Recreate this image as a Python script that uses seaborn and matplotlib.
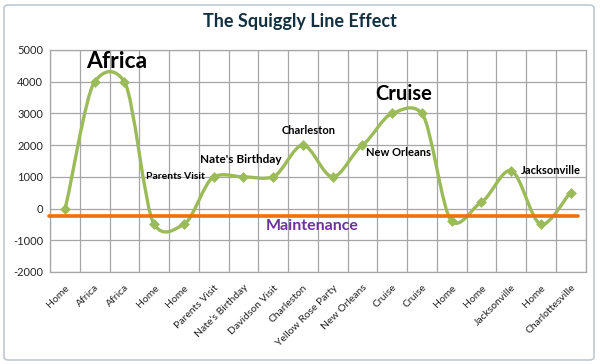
import numpy as np
import pandas as pd
import matplotlib
matplotlib.use("Agg")
import matplotlib.pyplot as plt
import seaborn as sns
from matplotlib.path import Path
from matplotlib.patches import PathPatch, FancyBboxPatch

categories = ["Home", "Africa", "Africa", "Home", "Home", "Parents Visit",
              "Nate's Birthday", "Davidson Visit", "Charleston", "Yellow Rose Party",
              "New Orleans", "Cruise", "Cruise", "Home", "Home", "Jacksonville",
              "Home", "Charlottesville"]
values = [0, 4000, 4000, -500, -500, 1000, 1000, 1000, 2000, 1000,
          2000, 3000, 3000, -400, 200, 1200, -500, 500]
maintenance = -250
yticks = [-2000, -1000, 0, 1000, 2000, 3000, 4000, 5000]

annotations = [
    ("Africa", 1.75, 4650, 16.5, "black", "center"),
    ("Parents Visit", 4.72, 1020, 7.5, "black", "right"),
    ("Nate's Birthday", 5.92, 1560, 8.5, "black", "center"),
    ("Charleston", 8.2, 2470, 8, "black", "center"),
    ("Cruise", 11.4, 3600, 14.5, "black", "center"),
    ("New Orleans", 11.2, 1780, 8, "black", "center"),
    ("Jacksonville", 16.34, 1210, 8, "black", "center"),
    ("Maintenance", 8.3, -560, 11.5, "#7030A0", "center"),
]

sns.set_theme(style="white")
plt.rcParams["font.family"] = ["Lato", "DejaVu Sans"]

fig = plt.figure(figsize=(6.0, 3.64), dpi=100)
ax = fig.add_axes([50/600, 1-272/364, 535.5/600, 222/364])

df = pd.DataFrame({"x": np.arange(len(values)), "y": values, "cat": categories})

# smoothed line: cubic Bezier segments through data points (Excel-like smoothing)
green = "#9BBB59"
xs = df["x"].to_numpy(dtype=float)
ys = df["y"].to_numpy(dtype=float)
f = 0.1
verts = [(xs[0], ys[0])]
codes = [Path.MOVETO]
n = len(xs)
for i in range(n - 1):
    i0 = max(i - 1, 0)
    i3 = min(i + 2, n - 1)
    c1 = (xs[i] + (xs[i+1] - xs[i0]) * f * 1.6, ys[i] + (ys[i+1] - ys[i0]) * f)
    c2 = (xs[i+1] - (xs[i3] - xs[i]) * f * 1.6, ys[i+1] - (ys[i3] - ys[i]) * f)
    verts += [c1, c2, (xs[i+1], ys[i+1])]
    codes += [Path.CURVE4] * 3
ax.add_patch(PathPatch(Path(verts, codes), facecolor="none", edgecolor=green,
                       lw=2.4, zorder=3, capstyle="round", joinstyle="round"))
sns.scatterplot(data=df, x="x", y="y", marker="D", s=26, color=green,
                edgecolor=green, ax=ax, zorder=4, legend=False)

# maintenance line
ax.plot([-0.55, 17.25], [maintenance, maintenance], color="#F0700A", lw=2.6,
        zorder=5, clip_on=False)

for txt, x, y, size, col, ha in annotations:
    ax.text(x, y, txt, fontsize=size, fontweight="bold", color=col, ha=ha,
            va="center", zorder=6)

ax.set_xlim(-0.5, n - 0.5)
ax.set_ylim(-2000, 5000)
ax.set_yticks(yticks)
ax.set_yticklabels([str(v) for v in yticks], fontsize=8)
ax.set_xticks(np.arange(n))
ax.set_xticklabels(categories, rotation=45, ha="right", rotation_mode="anchor",
                   fontsize=7.5, color="#222222")
ax.set_xticks(np.arange(-0.5, n, 1), minor=True)
ax.tick_params(axis="both", which="both", length=0, pad=5)
ax.tick_params(axis="x", which="major", pad=8)
ax.grid(False)
ax.grid(True, axis="x", which="minor", color="#A6A6A6", lw=0.9)
ax.grid(True, axis="y", which="major", color="#A6A6A6", lw=0.9)
ax.set_axisbelow(True)
for s in ax.spines.values():
    s.set_color("#A6A6A6")
    s.set_linewidth(0.9)
ax.set_xlabel("")
ax.set_ylabel("")

fig.text(0.5, 1 - 22/364, "The Squiggly Line Effect", ha="center", va="center",
         fontsize=13, fontweight="bold", color="#12303F")

border = FancyBboxPatch((4/600, 4/364), 590/600, 355/364,
                        boxstyle="round,pad=0,rounding_size=0.008",
                        transform=fig.transFigure, facecolor="none",
                        edgecolor="#C0C8D0", lw=1.2)
fig.patches.append(border)

fig.savefig("out.png", dpi=100)
